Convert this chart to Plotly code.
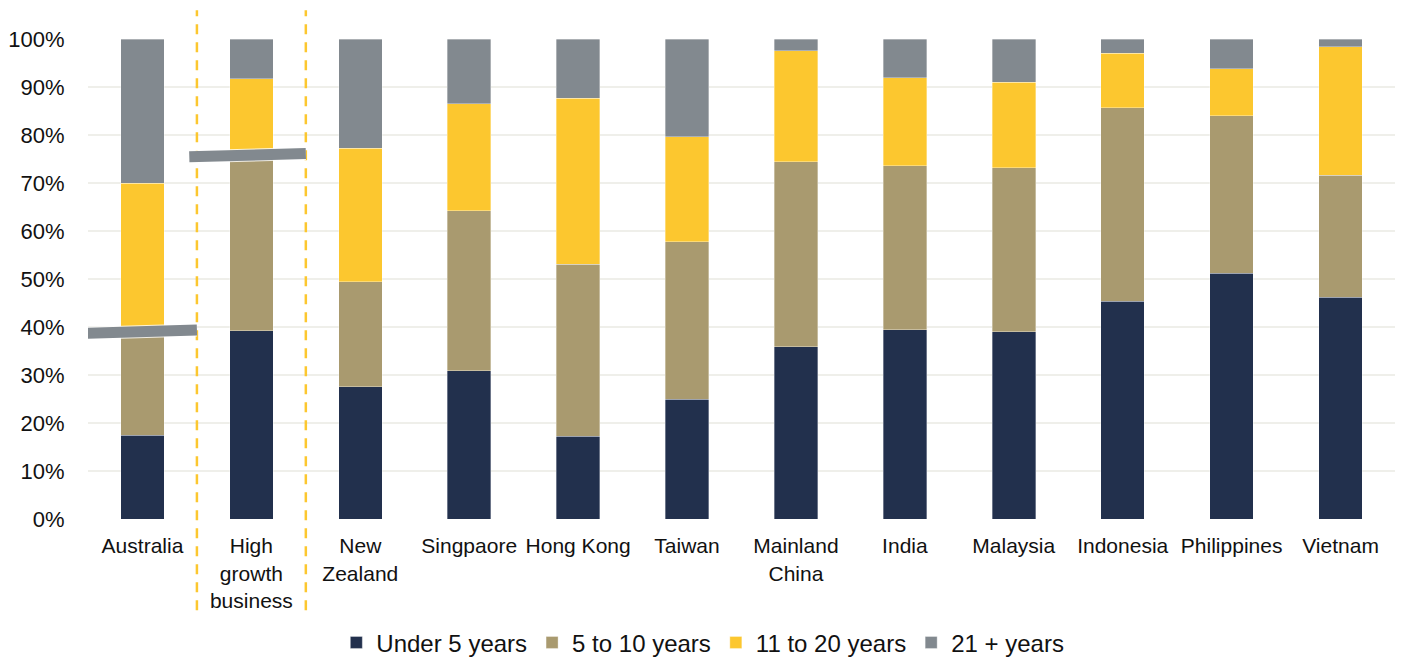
import plotly.graph_objects as go

categories = [
    "Australia", "High<br>growth<br>business", "New<br>Zealand", "Singpaore",
    "Hong Kong", "Taiwan", "Mainland<br>China", "India", "Malaysia",
    "Indonesia", "Philippines", "Vietnam",
]

under_5 = [17.4, 39.2, 27.6, 30.9, 17.2, 25.0, 35.9, 39.4, 39.0, 45.4, 51.2, 46.2]
five_to_10 = [21.6, 36.6, 21.8, 33.3, 35.9, 32.8, 38.5, 34.2, 34.2, 40.3, 32.8, 25.4]
eleven_to_20 = [30.9, 15.9, 27.8, 22.3, 34.6, 21.8, 23.2, 18.3, 17.8, 11.3, 9.8, 26.8]
over_21 = [30.1, 8.3, 22.8, 13.5, 12.3, 20.4, 2.4, 8.1, 9.0, 3.0, 6.2, 1.6]

series = [
    ("Under 5 years", under_5, "#22304D"),
    ("5 to 10 years", five_to_10, "#A99A6F"),
    ("11 to 20 years", eleven_to_20, "#FCC72F"),
    ("21 + years", over_21, "#82898F"),
]

FONT = "Liberation Sans, Arial, sans-serif"

fig = go.Figure()
for name, vals, color in series:
    fig.add_trace(go.Bar(
        x=list(range(len(categories))), y=vals, name=name,
        marker=dict(color=color, line=dict(color="rgba(255,255,255,0.45)", width=0.75)),
        width=0.4,
    ))

# Vertical dashed separators around the "High growth business" column
for xpos in (0.5, 1.5):
    fig.add_shape(type="line", xref="x", yref="paper",
                  x0=xpos, x1=xpos, y0=-0.19, y1=1.06,
                  line=dict(color="#FCC72F", width=2.5, dash="10px,8px"), layer="above")

# Slanted grey markers at the under-10-years boundary for the first two columns
for idx in (0, 1):
    level = under_5[idx] + five_to_10[idx]
    for col, w in (("rgba(255,255,255,0.8)", 13), ("#82898F", 11)):
        fig.add_shape(type="line", xref="x", yref="y",
                      x0=idx - 0.57, x1=idx + 0.5,
                      y0=level - 0.35, y1=level + 0.35,
                      line=dict(color=col, width=w), layer="above")

fig.update_layout(
    barmode="stack",
    width=1403, height=658,
    margin=dict(l=88, r=8, t=39, b=139, autoexpand=False),
    paper_bgcolor="white", plot_bgcolor="white",
    font=dict(family=FONT, size=21, color="#111111"),
    legend=dict(orientation="h", x=0.19, xanchor="left",
                yref="container", y=0.023, yanchor="middle",
                font=dict(size=24, family=FONT), traceorder="normal",
                itemwidth=30),
    showlegend=True,
)
fig.update_xaxes(
    tickmode="array", tickvals=list(range(len(categories))), ticktext=categories,
    range=[-0.5, len(categories) - 0.5],
    showgrid=False, zeroline=False, showline=False,
    ticks="outside", ticklen=8, tickcolor="rgba(0,0,0,0)",
    tickfont=dict(size=21, family=FONT),
)
fig.update_yaxes(
    range=[0, 100], dtick=10, ticksuffix="%",
    showgrid=True, gridcolor="#EFEFEA", gridwidth=2,
    zeroline=False, showline=False,
    ticks="outside", ticklen=18, tickcolor="rgba(0,0,0,0)",
    tickfont=dict(size=22, family=FONT),
)

fig.write_html("out.html")
